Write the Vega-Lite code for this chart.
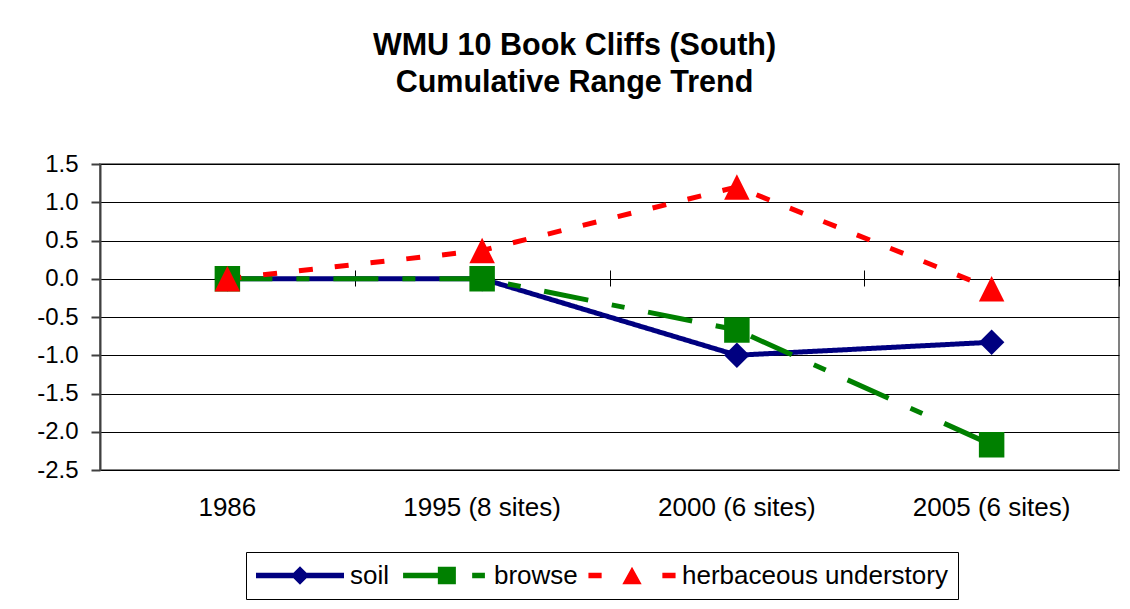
{
  "$schema": "https://vega.github.io/schema/vega-lite/v6.json",
  "width": 1019,
  "height": 306,
  "autosize": {"type": "none"},
  "padding": {"left": 100, "top": 164, "right": 11, "bottom": 139},
  "background": "white",
  "title": {
    "text": ["WMU 10 Book Cliffs (South)", "Cumulative Range Trend"],
    "font": "Liberation Sans",
    "fontSize": 30.5,
    "fontWeight": "bold",
    "color": "black",
    "anchor": "middle",
    "frame": "group",
    "dx": -35,
    "offset": 54,
    "lineHeight": 37
  },
  "config": {
    "view": {"stroke": "#808080", "strokeWidth": 2},
    "font": "Liberation Sans",
    "axisY": {
      "title": null, "values": [-2.5, -2, -1.5, -1, -0.5, 0, 0.5, 1, 1.5], "format": ".1f",
      "labelExpr": "replace(datum.label, '\u2212', '-')",
      "grid": true, "gridColor": "black", "gridWidth": 1, "gridOpacity": 1,
      "domainColor": "#404040", "domainWidth": 2, "tickColor": "#404040", "tickWidth": 2, "tickSize": 9,
      "labelFontSize": 24, "labelColor": "black", "labelPadding": 13, "labelFont": "Liberation Sans"
    }
  },
  "data": {
    "values": [
      {"period": "1986", "series": "soil", "value": 0},
      {"period": "1995 (8 sites)", "series": "soil", "value": 0},
      {"period": "2000 (6 sites)", "series": "soil", "value": -1.0},
      {"period": "2005 (6 sites)", "series": "soil", "value": -0.83},
      {"period": "1986", "series": "browse", "value": 0},
      {"period": "1995 (8 sites)", "series": "browse", "value": 0},
      {"period": "2000 (6 sites)", "series": "browse", "value": -0.67},
      {"period": "2005 (6 sites)", "series": "browse", "value": -2.17},
      {"period": "1986", "series": "herbaceous understory", "value": 0},
      {"period": "1995 (8 sites)", "series": "herbaceous understory", "value": 0.37},
      {"period": "2000 (6 sites)", "series": "herbaceous understory", "value": 1.2},
      {"period": "2005 (6 sites)", "series": "herbaceous understory", "value": -0.13}
    ]
  },
  "encoding": {
    "y": {
      "field": "value", "type": "quantitative",
      "scale": {"domain": [-2.5, 1.5], "nice": false, "zero": false}
    },
    "color": {
      "field": "series", "type": "nominal",
      "scale": {"domain": ["soil", "browse", "herbaceous understory"], "range": ["#000080", "#008000", "#FF0000"]},
      "legend": {
        "title": null, "orient": "none", "legendX": 146, "legendY": 388, "direction": "horizontal",
        "labelFontSize": 26, "labelFont": "Liberation Sans", "labelColor": "black", "labelLimit": 500,
        "strokeColor": "black", "fillColor": "white", "padding": 10, "symbolSize": 7744, "symbolStrokeWidth": 0,
        "symbolOpacity": 1, "labelOffset": 6, "columnPadding": 10, "clipHeight": 27
      }
    }
  },
  "layer": [
    {
      "mark": {"type": "line", "strokeWidth": 5, "strokeCap": "butt"},
      "encoding": {
        "x": {
          "field": "period", "type": "nominal",
          "sort": ["1986", "1995 (8 sites)", "2000 (6 sites)", "2005 (6 sites)"],
          "scale": {"paddingInner": 0, "paddingOuter": 0},
          "axis": {"title": null, "labelAngle": 0, "ticks": false, "domain": false, "grid": false,
                   "labelFontSize": 26, "labelColor": "black", "labelPadding": 24, "labelFont": "Liberation Sans"}
        },
        "strokeDash": {
          "field": "series", "type": "nominal",
          "scale": {"domain": ["soil", "browse", "herbaceous understory"], "range": [[1, 0], [45, 24, 13, 24], [14, 22]]},
          "legend": null
        }
      }
    },
    {
      "mark": {"type": "point", "filled": true, "size": 0, "strokeWidth": 0},
      "encoding": {
        "x": {
          "field": "period", "type": "nominal",
          "sort": ["1986", "1995 (8 sites)", "2000 (6 sites)", "2005 (6 sites)"],
          "axis": {"title": null, "orient": "bottom", "offset": -200, "labels": false, "domain": false, "grid": false,
                   "ticks": true, "tickBand": "extent", "tickSize": 16, "tickColor": "black", "tickWidth": 1}
        },
        "shape": {
          "field": "series", "type": "nominal",
          "scale": {"domain": ["soil", "browse", "herbaceous understory"], "range": [
            "M-1,-0.06L1,-0.06L1,0.06L-1,0.06ZM0,-0.21L0.21,0L0,0.21L-0.21,0Z",
            "M-0.93,-0.06L-0.14,-0.06L-0.14,0.06L-0.93,0.06ZM-0.14,-0.2L0.27,-0.2L0.27,0.2L-0.14,0.2ZM0.64,-0.06L0.93,-0.06L0.93,0.06L0.64,0.06Z",
            "M-0.99,-0.06L-0.69,-0.06L-0.69,0.06L-0.99,0.06ZM0.69,-0.06L0.99,-0.06L0.99,0.06L0.69,0.06ZM0,-0.2L0.22,0.2L-0.22,0.2Z"
          ]},
          "legend": null
        }
      }
    },
    {
      "transform": [{"filter": "datum.series === 'soil'"}],
      "mark": {"type": "point", "filled": true, "opacity": 1, "strokeWidth": 0, "size": 650, "shape": "M0,-1L1,0L0,1L-1,0Z"},
      "encoding": {
        "x": {"field": "period", "type": "nominal", "sort": ["1986", "1995 (8 sites)", "2000 (6 sites)", "2005 (6 sites)"], "axis": null}
      }
    },
    {
      "transform": [{"filter": "datum.series === 'browse'"}],
      "mark": {"type": "point", "filled": true, "opacity": 1, "strokeWidth": 0, "size": 650, "shape": "square"},
      "encoding": {
        "x": {"field": "period", "type": "nominal", "sort": ["1986", "1995 (8 sites)", "2000 (6 sites)", "2005 (6 sites)"], "axis": null}
      }
    },
    {
      "transform": [{"filter": "datum.series === 'herbaceous understory'"}],
      "mark": {"type": "point", "filled": true, "opacity": 1, "strokeWidth": 0, "size": 650, "shape": "M0,-1L1,1L-1,1Z"},
      "encoding": {
        "x": {"field": "period", "type": "nominal", "sort": ["1986", "1995 (8 sites)", "2000 (6 sites)", "2005 (6 sites)"], "axis": null}
      }
    }
  ],
  "resolve": {"axis": {"x": "independent"}}
}
